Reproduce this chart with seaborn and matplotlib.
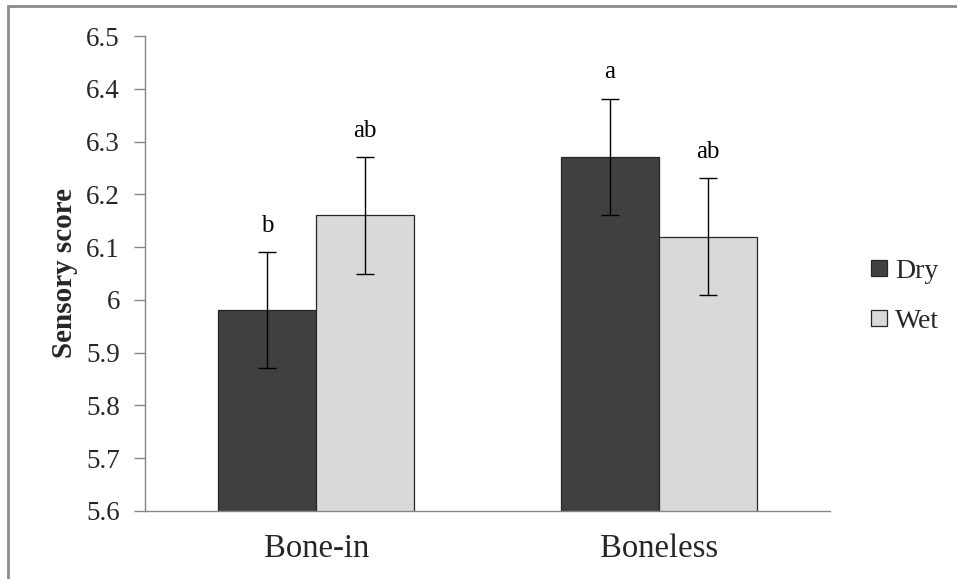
import matplotlib
matplotlib.use("Agg")
import matplotlib.pyplot as plt
import seaborn as sns
import pandas as pd
from matplotlib.patches import Rectangle, Patch

categories = ["Bone-in", "Boneless"]
treatments = ["Dry", "Wet"]
dry_values = [5.98, 6.27]
wet_values = [6.16, 6.12]
dry_errors = [0.11, 0.11]
wet_errors = [0.11, 0.11]
dry_letters = ["b", "a"]
wet_letters = ["ab", "ab"]
yticks = [5.6, 5.7, 5.8, 5.9, 6.0, 6.1, 6.2, 6.3, 6.4, 6.5]
ytick_labels = ["5.6", "5.7", "5.8", "5.9", "6", "6.1", "6.2", "6.3", "6.4", "6.5"]

sns.set_theme(style="white")
plt.rcParams["font.family"] = ["Liberation Serif", "DejaVu Serif"]

rows = []
for i, c in enumerate(categories):
    rows.append({"cat": c, "trt": "Dry", "val": dry_values[i], "err": dry_errors[i], "lab": dry_letters[i]})
    rows.append({"cat": c, "trt": "Wet", "val": wet_values[i], "err": wet_errors[i], "lab": wet_letters[i]})
df = pd.DataFrame(rows)

colors = {"Dry": "#404040", "Wet": "#d9d9d9"}

fig = plt.figure(figsize=(9.57, 5.79), dpi=100)
ax = fig.add_axes([145/957, 1 - 511/579, (830 - 145)/957, (511 - 36)/579])

sns.barplot(data=df, x="cat", y="val", hue="trt", order=categories, hue_order=treatments,
            palette=colors, width=0.572, edgecolor="#262626", linewidth=0.9,
            errorbar=None, legend=False, ax=ax)

ax.set_ylim(5.6, 6.5)
ax.set_xlim(-0.5, 1.5)

bars = [p for p in ax.patches if isinstance(p, Rectangle) and p.get_width() > 0]
for p in bars:
    xc = p.get_x() + p.get_width() / 2
    ci = int(round(xc))
    trt = "Dry" if xc < ci else "Wet"
    row = df[(df.cat == categories[ci]) & (df.trt == trt)].iloc[0]
    ax.errorbar(xc, row.val, yerr=row.err, fmt="none", ecolor="black",
                elinewidth=1.0, capsize=6.5, capthick=1.0, zorder=5)
    ax.text(xc, row.val + row.err + 0.03, row.lab, ha="center", va="bottom",
            fontsize=18, color="black")

ax.set_yticks(yticks)
ax.set_yticklabels(ytick_labels, fontsize=19.5)
ax.set_xticks([0, 1])
ax.set_xticklabels(categories, fontsize=23.5)
ax.set_xticks([-0.5, 0.5, 1.5], minor=True)
ax.tick_params(axis="x", which="major", length=0, pad=16)
ax.tick_params(axis="x", which="minor", length=8, width=1, color="#868686", direction="out")
ax.tick_params(axis="y", length=8, width=1, color="#868686", direction="out", left=True, pad=10)

ax.set_xlabel("")
ax.set_ylabel("Sensory score", fontsize=21, fontweight="bold", labelpad=6)

for side in ["top", "right"]:
    ax.spines[side].set_visible(False)
for side in ["left", "bottom"]:
    ax.spines[side].set_color("#868686")
    ax.spines[side].set_linewidth(1.0)

handles = [Patch(facecolor=colors[t], edgecolor="#262626", linewidth=0.9, label=t) for t in treatments]
fig.legend(handles=handles, loc="center left", bbox_to_anchor=(0.896, 0.488),
           frameon=False, fontsize=20, handlelength=0.55, handleheight=0.55,
           handletextpad=0.3, labelspacing=0.9, borderpad=0)

frame = Rectangle((8/957, -0.2), 1.2, 1 - 6/579 + 0.2, transform=fig.transFigure,
                  fill=False, edgecolor="#8c8c8c", linewidth=2.0, clip_on=False)
fig.patches.append(frame)

fig.savefig("out.png", dpi=100, facecolor="white")
